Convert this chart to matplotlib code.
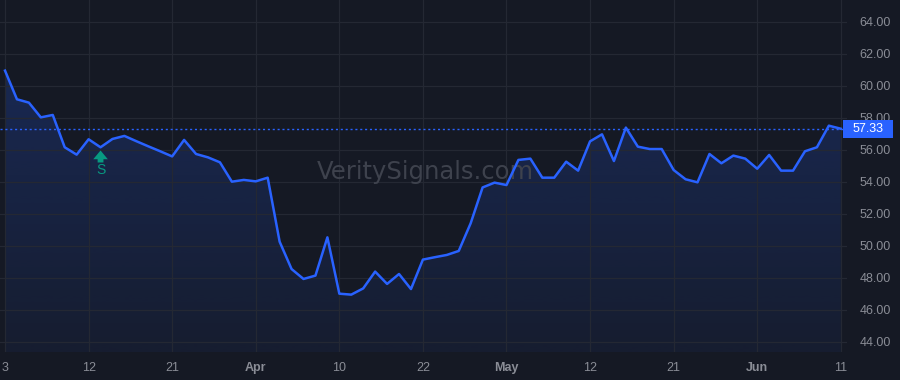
# price line chart, dark theme, 2025 trading days Mar 3 - Jun 11
import numpy as np
import matplotlib.pyplot as plt
from matplotlib.patches import Polygon, Rectangle
from matplotlib.transforms import blended_transform_factory

prices = [60.96, 59.17, 58.96, 58.04, 58.19, 56.17, 55.71, 56.67, 56.17, 56.69,
          56.88, 56.55, 56.23, 55.92, 55.60, 56.63, 55.75, 55.54, 55.23, 54.02,
          54.13, 54.04, 54.27, 50.27, 48.56, 47.94, 48.15, 50.54, 47.02, 46.96,
          47.35, 48.40, 47.63, 48.25, 47.31, 49.15, 49.30, 49.44, 49.69, 51.42,
          53.66, 53.96, 53.81, 55.38, 55.46, 54.27, 54.27, 55.27, 54.71, 56.54,
          56.98, 55.31, 57.40, 56.21, 56.06, 56.06, 54.75, 54.17, 53.98, 55.75,
          55.17, 55.65, 55.46, 54.83, 55.69, 54.71, 54.71, 55.92, 56.17, 57.52,
          57.33]
tick_labels = ['3', '12', '21', 'Apr', '10', '22', 'May', '12', '21', 'Jun', '11']
month_labels = ['Apr', 'May', 'Jun']
signal_idx = 8
signal_text = 'S'
watermark = 'VeritySignals.com'

bg = '#151924'
grid_c = '#242833'
line_c = '#2962ff'
label_c = '#8a8d96'

x = np.arange(len(prices))
y = np.array(prices)
last = prices[-1]

fig = plt.figure(figsize=(9, 3.8), dpi=100, facecolor=bg)
ax = fig.add_axes([0, 28/380, 847/900, 352/380])
ax.set_facecolor(bg)

ax.set_xlim(-0.42, 70.52)
ax.set_ylim(43.375, 65.375)

# gradient fill under line
ymin, ymax = ax.get_ylim()
verts = [(x[0], ymin)] + list(zip(x, y)) + [(x[-1], ymin)]
poly = Polygon(verts, closed=True, fc='none', ec='none')
ax.add_patch(poly)
grad = np.zeros((256, 1, 4))
grad[:, 0, 0] = 41/255
grad[:, 0, 1] = 98/255
grad[:, 0, 2] = 1.0
grad[:, 0, 3] = np.linspace(0.055, 0.25, 256)
im = ax.imshow(grad, extent=[x[0], x[-1], ymin, ymax], origin='lower',
               aspect='auto', zorder=1)
im.set_clip_path(poly)

ax.plot(x, y, color=line_c, lw=1.8, zorder=3, solid_joinstyle='round')
ax.axhline(last, color=line_c, lw=1, ls=(0, (1.5, 2)), zorder=2)

# grid / ticks
ax.set_yticks(np.arange(44, 65, 2))
ax.set_yticklabels([f'{v:.2f}' for v in np.arange(44, 65, 2)])
ax.set_xticks(x[::7])
ax.set_xticklabels(tick_labels)
for t in ax.get_xticklabels():
    if t.get_text() in month_labels:
        t.set_fontweight('bold')
ax.yaxis.tick_right()
ax.grid(True, color=grid_c, lw=0.9, zorder=0)
ax.tick_params(axis='y', length=0, pad=9, labelsize=9, labelcolor=label_c)
ax.tick_params(axis='x', length=0, pad=7, labelsize=9, labelcolor=label_c)
for t in ax.get_xticklabels() + ax.get_yticklabels():
    t.set_fontfamily('Liberation Sans')
for s in ax.spines.values():
    s.set_visible(False)

# last price tag
tr = blended_transform_factory(ax.transAxes, ax.transData)
ax.add_patch(Rectangle((843/847, last - 0.56), 50/847, 1.12, transform=tr,
                       fc=line_c, ec='none', clip_on=False, zorder=5))
ax.text(868/847, last, f'{last:.2f}', transform=tr, ha='center', va='center',
        color='white', fontsize=9, family='Liberation Sans', zorder=6)

# watermark
ax.text(0.502, 54.6, watermark, transform=tr, ha='center', va='center',
        color='#3e424d', fontsize=17.5, zorder=2)

# signal marker
sv = prices[signal_idx]
ax.annotate('', xy=(signal_idx, sv - 0.2), xytext=(signal_idx, sv - 0.95),
            arrowprops=dict(arrowstyle='simple,head_length=0.45,head_width=0.75,tail_width=0.3',
                            fc='#089981', ec='none', mutation_scale=14,
                            shrinkA=0, shrinkB=0), zorder=4)
ax.text(signal_idx, sv - 1.45, signal_text, ha='center', va='center',
        color='#089981', fontsize=10, family='Liberation Sans', zorder=4)

fig.savefig('out.png', dpi=100, facecolor=bg)
